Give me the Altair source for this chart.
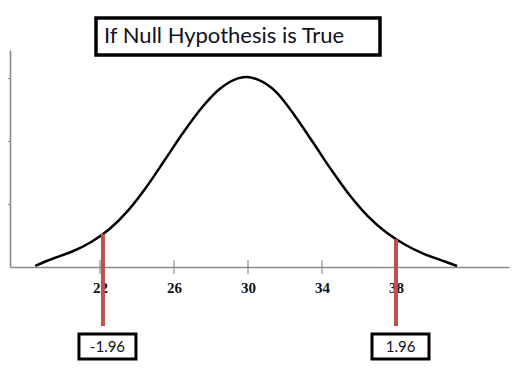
import altair as alt
import pandas as pd

# Curve (x in data units, y as density)
curve_x = [18.5, 19.5, 20.5, 21.5, 22.5, 23.5, 24.5, 25.5, 26.5, 27.5, 28.5, 29.5, 29.95,
           30.5, 31.5, 32.5, 33.5, 34.5, 35.5, 36.5, 37.5, 38.5, 39.5, 40.5, 41.3]
curve_y = [0.0006, 0.0045, 0.0080, 0.0128, 0.0195, 0.0290, 0.0412, 0.0552, 0.0694, 0.0822,
           0.0921, 0.0975, 0.0981,
           0.0968, 0.0905, 0.0785, 0.0645, 0.0502, 0.0370, 0.0260, 0.0177, 0.0115, 0.0068,
           0.0033, 0.0005]

x_ticks = [22, 26, 30, 34, 38]
y_ticks = [0.0325, 0.065, 0.0975]

crit_x = [22.16, 38.0]
crit_top = [0.0172, 0.0143]
crit_bottom = [-0.0305, -0.0305]
crit_labels = ["-1.96", "1.96"]

title_text = "If Null Hypothesis is True"

curve_df = pd.DataFrame({"x": curve_x, "y": curve_y})
tick_df = pd.DataFrame({"x": x_ticks, "y": [0] * len(x_ticks)})
crit_df = pd.DataFrame({"x": crit_x, "top": crit_top, "bottom": crit_bottom, "label": crit_labels})
title_df = pd.DataFrame({"t": [title_text]})

xs = alt.Scale(domain=[17.135, 44.108], nice=False, zero=False)
ys = alt.Scale(domain=[0, 0.112], nice=False, zero=False)

axis_color = "#8a8a8a"

x_axis = alt.Axis(values=x_ticks, title=None, ticks=False, labelPadding=13,
                  labelFont="Liberation Serif", labelFontWeight="bold", labelFontSize=15,
                  labelColor="#111122", domainColor=axis_color, domainWidth=1.6, grid=False,
                  format="d")
y_axis = alt.Axis(values=y_ticks, title=None, labels=False, ticks=True, tickSize=3,
                  tickColor=axis_color, domainColor=axis_color, domainWidth=1.6, grid=False)

curve = alt.Chart(curve_df).mark_line(color="black", strokeWidth=2.5, interpolate="monotone").encode(
    x=alt.X("x:Q", scale=xs, axis=x_axis),
    y=alt.Y("y:Q", scale=ys, axis=y_axis),
)

ticks = alt.Chart(tick_df).mark_tick(color="#777777", size=14, thickness=1.4).encode(
    x=alt.X("x:Q", scale=xs),
    y=alt.Y("y:Q", scale=ys),
)

red = alt.Chart(crit_df).mark_rule(color="#c0504d", strokeWidth=4).encode(
    x=alt.X("x:Q", scale=xs),
    y=alt.Y("top:Q", scale=ys),
    y2="bottom:Q",
)

boxes = alt.Chart(crit_df).mark_rect(fill="white", stroke="black", strokeWidth=3,
                                     xOffset=-24, x2Offset=33).encode(
    x=alt.X("x:Q", scale=xs),
    x2="x:Q",
    y=alt.value(284),
    y2=alt.value(309),
)

box_text = alt.Chart(crit_df).mark_text(font="Lato", fontSize=15, color="#111122",
                                        baseline="middle", align="center", dx=4.5).encode(
    x=alt.X("x:Q", scale=xs),
    y=alt.value(297),
    text="label:N",
)

title_box = alt.Chart(title_df).mark_rect(fill="white", stroke="black", strokeWidth=3.5).encode(
    x=alt.value(86), x2=alt.value(370), y=alt.value(-32), y2=alt.value(5),
)
title_txt = alt.Chart(title_df).mark_text(font="Lato", fontSize=22, color="#111122",
                                          align="left", baseline="alphabetic").encode(
    x=alt.value(94), y=alt.value(-7), text="t:N",
)

chart = alt.layer(curve, ticks, red, boxes, box_text, title_box, title_txt).properties(
    width=499, height=217,
    autosize=alt.AutoSizeParams(type="none"),
    padding={"left": 2, "top": 42, "right": 3, "bottom": 105},
).configure_view(stroke=None)

chart.save("out.html", embed_options={"renderer": "svg", "actions": False})
